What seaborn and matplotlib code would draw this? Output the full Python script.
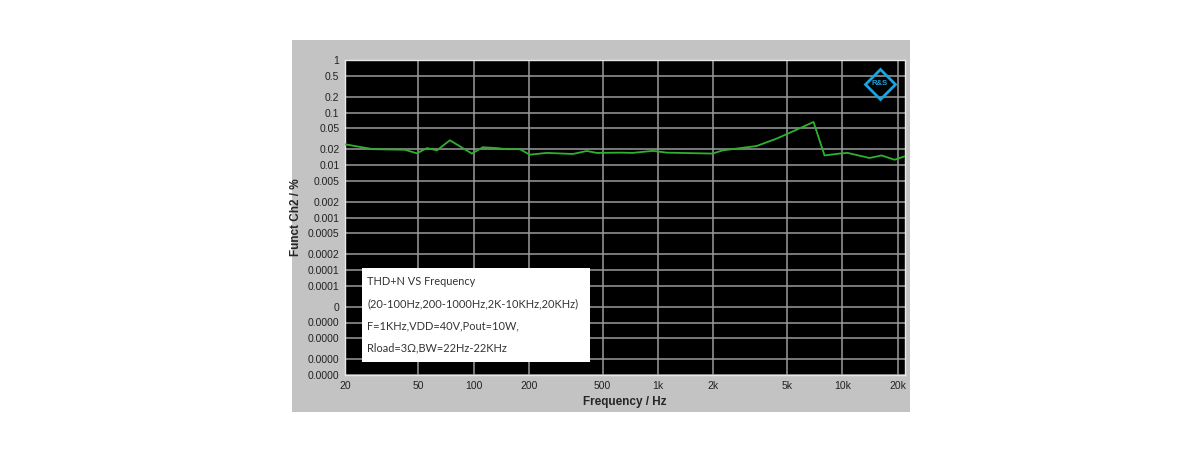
import matplotlib
matplotlib.use('Agg')
import matplotlib.pyplot as plt
from matplotlib.patches import Rectangle
import seaborn as sns
import pandas as pd

# THD+N readings (frequency in Hz, value in %)
freq = [20, 28.4, 42.3, 49.1, 55.7, 63.1, 74.2, 97.6, 112, 133, 151, 178, 201,
        249, 345, 410, 465, 620, 729, 936, 1114, 1980, 2245, 3430, 4400, 5650,
        6980, 8010, 9660, 10680, 14060, 16340, 19220, 21770]
thdn = [0.0248, 0.0200, 0.0195, 0.0167, 0.0210, 0.0190, 0.0296, 0.0165, 0.0218,
        0.0210, 0.0200, 0.0200, 0.0157, 0.0170, 0.0162, 0.0185, 0.0170, 0.0172,
        0.0170, 0.0186, 0.0172, 0.0165, 0.0190, 0.0230, 0.0318, 0.0470, 0.0660,
        0.0152, 0.0165, 0.0170, 0.0136, 0.0152, 0.0126, 0.0146]

x_ticks = [20, 50, 100, 200, 500, 1000, 2000, 5000, 10000, 20000]
x_labels = ['20', '50', '100', '200', '500', '1k', '2k', '5k', '10k', '20k']
y_ticks = [1, 0.5, 0.2, 0.1, 0.05, 0.02, 0.01, 0.005, 0.002, 0.001, 0.0005,
           0.0002, 0.0001, 0.00005, 0.00002, 0.00001, 0.000005, 0.000002, 0.000001]
y_labels = ['1', '0.5', '0.2', '0.1', '0.05', '0.02', '0.01', '0.005', '0.002',
            '0.001', '0.0005', '0.0002', '0.0001', '0.0001', '0', '0.0000',
            '0.0000', '0.0000', '0.0000']

note = ['THD+N VS Frequency',
        '(20-100Hz,200-1000Hz,2K-10KHz,20KHz)',
        'F=1KHz,VDD=40V,Pout=10W,',
        'Rload=3\u03a9,BW=22Hz-22KHz']

df = pd.DataFrame({'freq': freq, 'thdn': thdn})

sns.set_style('dark')
plt.rcParams['font.family'] = ['Liberation Sans', 'DejaVu Sans']

fig = plt.figure(figsize=(12, 4.5), dpi=100)
fig.patch.set_facecolor('white')
fig.patches.append(Rectangle((292 / 1200, 38 / 450), 618 / 1200, 372 / 450,
                             transform=fig.transFigure, facecolor='#c3c3c3',
                             edgecolor='none', zorder=-10))

ax = fig.add_axes([345 / 1200, 75 / 450, 560 / 1200, 315 / 450])
ax.set_facecolor('black')

sns.lineplot(data=df, x='freq', y='thdn', ax=ax, color='#2fb12f', linewidth=1.3,
             zorder=3)

ax.set_xscale('log')
ax.set_yscale('log')
ax.set_xlim(20, 21900)
ax.set_ylim(1e-6, 1)

ax.set_xticks(x_ticks)
ax.set_xticklabels(x_labels)
ax.set_yticks(y_ticks)
ax.set_yticklabels(y_labels)
ax.minorticks_off()
ax.tick_params(axis='both', length=0, labelsize=7.5, colors='#222222', pad=4)

ax.grid(True, color='#9a9a9a', linewidth=1.1)
for s in ax.spines.values():
    s.set_color('#e8e8e8')
    s.set_linewidth(1)

ax.set_xlabel('Frequency / Hz', fontsize=8.5, fontweight='bold', labelpad=4)
ax.set_ylabel('Funct Ch2 / %', fontsize=8.5, fontweight='bold', labelpad=4)

# annotation box
ax.add_patch(Rectangle((0.03, 0.04), 0.408, 0.30, transform=ax.transAxes,
                       facecolor='white', edgecolor='none', zorder=4))
for i, line in enumerate(note):
    ax.text(0.04, 0.298 - i * 0.0708, line, transform=ax.transAxes, zorder=5,
            fontsize=7.9, color='#333333', va='center', family=['Lato', 'DejaVu Sans'])

# R&S logo
ax.plot([0.955], [0.924], marker='D', markersize=15.5, markerfacecolor='none',
        markeredgecolor='#1ba3dd', markeredgewidth=2, transform=ax.transAxes,
        zorder=5)
ax.text(0.955, 0.924, 'R&S', transform=ax.transAxes, ha='center', va='center',
        fontsize=5.5, color='#1ba3dd', fontweight='bold', zorder=5)

plt.savefig('out.png', dpi=100)
